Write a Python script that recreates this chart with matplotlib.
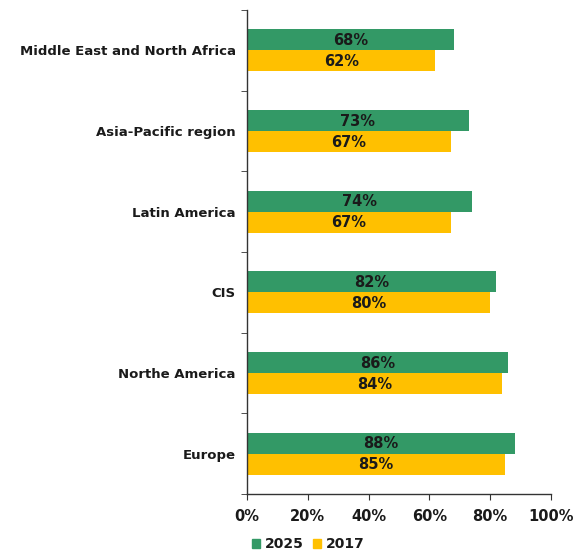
import matplotlib
matplotlib.use("Agg")
import matplotlib.pyplot as plt
import numpy as np
from matplotlib.ticker import FixedLocator, PercentFormatter

regions = ["Middle East and North Africa", "Asia-Pacific region", "Latin America",
           "CIS", "Northe America", "Europe"]
share_2025 = [68, 73, 74, 82, 86, 88]
share_2017 = [62, 67, 67, 80, 84, 85]
series_names = ["2025", "2017"]

green = "#339966"
yellow = "#FFC000"

plt.rcParams["font.family"] = ["DejaVu Sans"]

fig = plt.figure(figsize=(5.73, 5.54), dpi=100)
ax = fig.add_axes([0.431, 0.1083, 0.5306, 0.8737])

n = len(regions)
y = np.arange(n)
h = 0.26

b1 = ax.barh(y - h / 2, share_2025, height=h, color=green, label=series_names[0])
b2 = ax.barh(y + h / 2, share_2017, height=h, color=yellow, label=series_names[1])

for bars, vals in ((b1, share_2025), (b2, share_2017)):
    for rect, v in zip(bars, vals):
        ax.text(rect.get_width() / 2, rect.get_y() + rect.get_height() / 2 + 0.01, f"{v}%",
                ha="center", va="center", fontsize=10.5, fontweight="bold", color="#1a1a1a")

ax.set_ylim(n - 0.5, -0.5)
ax.set_xlim(0, 100)
ax.set_yticks(y)
ax.set_yticklabels(regions, fontsize=9.5, fontweight="bold", color="#1a1a1a")
ax.yaxis.set_minor_locator(FixedLocator(np.arange(-0.5, n, 1)))
ax.tick_params(axis="y", which="major", length=0, pad=8)
ax.tick_params(axis="y", which="minor", length=4, direction="out", color="#333333")

ax.set_xticks(np.arange(0, 101, 20))
ax.xaxis.set_major_formatter(PercentFormatter(decimals=0))
ax.tick_params(axis="x", length=4, direction="out", color="#333333", labelsize=10.5,
               labelcolor="#1a1a1a", pad=7)
for lbl in ax.get_xticklabels():
    lbl.set_fontweight("bold")

for side in ("top", "right"):
    ax.spines[side].set_visible(False)
for side in ("left", "bottom"):
    ax.spines[side].set_color("#333333")
    ax.spines[side].set_linewidth(1.0)

handles = [plt.Rectangle((0, 0), 1, 1, color=green), plt.Rectangle((0, 0), 1, 1, color=yellow)]
leg = fig.legend(handles, series_names, loc="lower left", bbox_to_anchor=(0.418, -0.018),
                 ncol=2, frameon=False, handlelength=0.6, handleheight=0.6, handletextpad=0.3,
                 columnspacing=0.7, prop={"weight": "bold", "size": 10})
for t in leg.get_texts():
    t.set_color("#1a1a1a")

fig.savefig("out.png", dpi=100)
